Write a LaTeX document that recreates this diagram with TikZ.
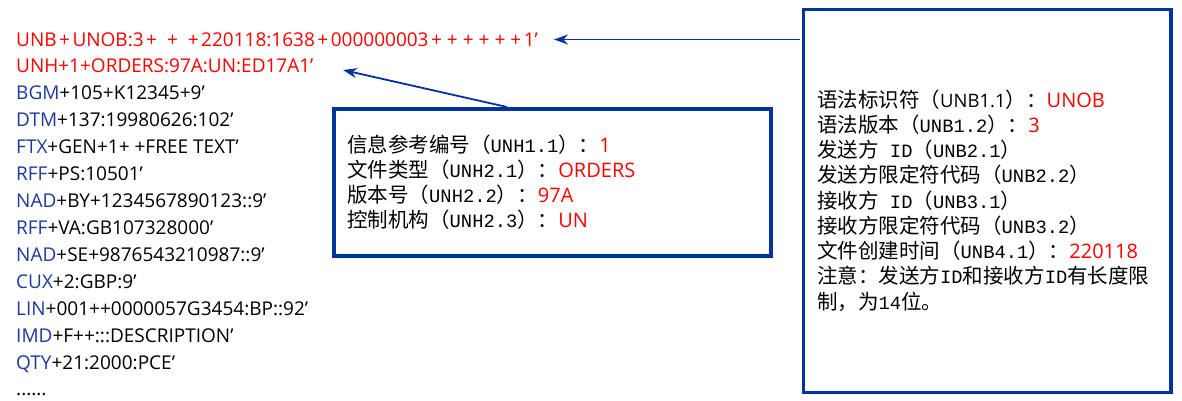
\documentclass[tikz,border=0pt]{standalone}
\usepackage{fontspec}
\usetikzlibrary{arrows.meta}
\setmainfont{Open Sans}
\newfontfamily\latf{Open Sans}
\newfontfamily\cjkf{Noto Sans CJK SC}
\newfontfamily\monof{Liberation Mono}
\definecolor{boxblue}{RGB}{0,51,160}
\definecolor{preblue}{RGB}{30,58,155}
\definecolor{valred}{RGB}{255,0,0}
\newcommand\edipre[1]{{\color{preblue}#1}}
\newcommand\edasc[1]{{\monof\fontsize{18.8}{20}\selectfont #1}}
\newcommand\edsans[1]{{\latf\fontsize{18.5}{20}\selectfont #1}}
\newcommand\edval[1]{{\color{valred}\latf\fontsize{20}{24}\selectfont #1}}
\newcommand\edp{\kern2.5pt+\kern2.5pt}
\begin{document}
\begin{tikzpicture}[x=1pt,y=-1pt,
  seg/.style={anchor=base west, inner sep=0pt, font=\latf\fontsize{19}{24}\selectfont},
  redseg/.style={seg, text=valred},
  note/.style={anchor=base west, inner sep=0pt, font=\cjkf\fontsize{20.5}{25}\selectfont},
  infobox/.style={draw=boxblue, line width=4pt, fill=white, inner sep=0pt, outer sep=0pt},
  arr/.style={draw=boxblue, line width=1.8pt, -{Stealth[length=14pt,width=10pt]}}]
\useasboundingbox (0,0) rectangle (1182,400);
\fill[white] (0,0) rectangle (1182,400);
% left EDI lines
\node[redseg] (l1) at (16,46) {UNB\edp UNOB:3\edp{} \edp{} \edp 220118:1638\edp 000000003\edp\edp\edp\edp\edp\edp 1’};
\node[redseg] (l2) at (16,72.95) {UNH+1+ORDERS:97A:UN:ED17A1’};
\node[seg] (l3) at (16,99.9) {\edipre{BGM}+105+K12345+9’};
\node[seg] (l4) at (16,126.85) {\edipre{DTM}+137:19980626:102’};
\node[seg] (l5) at (16,153.8) {\edipre{FTX}+GEN+1+ +FREE TEXT’};
\node[seg] (l6) at (16,180.75) {\edipre{RFF}+PS:10501’};
\node[seg] (l7) at (16,207.7) {\edipre{NAD}+BY+1234567890123::9’};
\node[seg] (l8) at (16,234.65) {\edipre{RFF}+VA:GB107328000’};
\node[seg] (l9) at (16,261.6) {\edipre{NAD}+SE+9876543210987::9’};
\node[seg] (l10) at (16,288.55) {\edipre{CUX}+2:GBP:9’};
\node[seg] (l11) at (16,315.5) {\edipre{LIN}+001++0000057G3454:BP::92’};
\node[seg] (l12) at (16,342.45) {\edipre{IMD}+F++:::DESCRIPTION’};
\node[seg] (l13) at (16,369.4) {\edipre{QTY}+21:2000:PCE’};
\node[seg] (l14) at (16,395.5) {......};
% boxes
\node[infobox, minimum width=437.3pt, minimum height=147pt] (b1) at (552.35,182.5) {};
\node[infobox, line width=3.5pt, minimum width=367.5pt, minimum height=383pt] (b2) at (987.25,201) {};
% box 1 text
\node[note] (u1) at (347,152) {信息参考编号（\edasc{UNH1.1}）：\edval{1}};
\node[note] (u2) at (347,177.3) {文件类型（\edasc{UNH2.1}）：\edval{ORDERS}};
\node[note] (u3) at (347,202.6) {版本号（\edasc{UNH2.2}）：\edval{97A}};
\node[note] (u4) at (347,227.9) {控制机构（\edasc{UNH2.3}）：\edval{UN}};
% box 2 text
\node[note] (n1) at (817,107) {语法标识符（\edsans{UNB1.1}）：\edval{UNOB}};
\node[note] (n2) at (817,132.25) {语法版本（\edasc{UNB1.2}）：\edval{3}};
\node[note] (n3) at (817,157.5) {发送方\edasc{ ID}（\edasc{UNB2.1}）};
\node[note] (n4) at (817,182.75) {发送方限定符代码（\edasc{UNB2.2}）};
\node[note] (n5) at (817,208) {接收方\edasc{ ID}（\edasc{UNB3.1}）};
\node[note] (n6) at (817,233.25) {接收方限定符代码（\edasc{UNB3.2}）};
\node[note] (n7) at (817,258.5) {文件创建时间（\edasc{UNB4.1}）：\edval{220118}};
\node[note] (n8) at (817,283.75) {注意：发送方\edasc{ID}和接收方\edasc{ID}有长度限};
\node[note] (n9) at (817,309) {制，为\edasc{14}位。};
% connectors
\coordinate (tip1) at (554,39.5);
\coordinate (tip2) at (343,70);
\coordinate (tail2) at (507,107);
\draw[arr] ([xshift=-4pt]b2.west |- tip1) -- (tip1);
\draw[arr] (tail2) -- (tip2);
\end{tikzpicture}
\end{document}
